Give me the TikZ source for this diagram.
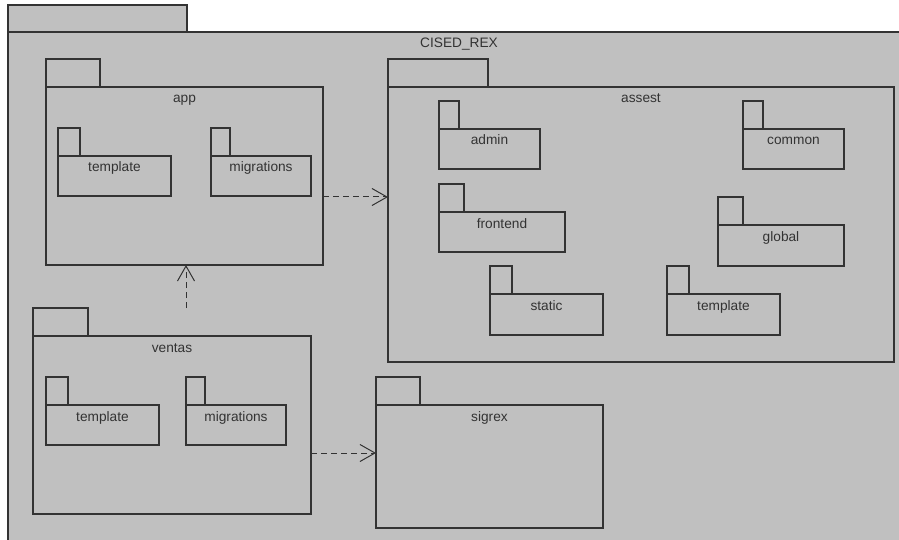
\documentclass[tikz,border=0pt]{standalone}
\usepackage{fontspec}
\setmainfont{Liberation Sans}
\usetikzlibrary{arrows.meta}
\definecolor{pkgfill}{HTML}{C0C0C0}
\definecolor{pkgline}{HTML}{333333}
\tikzset{
  pkgshape/.style={draw=pkgline, fill=pkgfill, line width=1.1pt, inner sep=0pt, outer sep=0pt, rectangle},
  pkglabel/.style={anchor=base, inner sep=0pt, text=pkgline, font=\fontsize{13.7}{16}\selectfont},
  dep/.style={draw=pkgline, line width=1pt, dash pattern=on 6pt off 4pt, -{Straight Barb[length=15pt,width=17pt]}}
}
% #1 name, #2 x1, #3 y1 (body top), #4 x2, #5 y2, #6 tab width, #7 label
\newcommand\umlpkg[7]{%
  \node[pkgshape, anchor=south west, minimum width=#6pt, minimum height=28pt] (#1tab) at (#2,#3) {};
  \node[pkgshape, anchor=north west, minimum width={(#4-#2)*1pt}, minimum height={(#5-#3)*1pt}] (#1) at (#2,#3) {};
  \node[pkglabel] (#1label) at ({(#2+#4)/2},{#3+16}) {#7};
}
\begin{document}
\begin{tikzpicture}[x=1pt,y=-1pt]
\useasboundingbox (0,0) rectangle (899,540);
\fill[white] (0,0) rectangle (899,540);
% outer package
\node[pkgshape, anchor=north west, minimum width=179pt, minimum height=27pt] (outertab) at (8,5) {};
\fill[pkgfill] (8,32) rectangle (899,540);
\coordinate (otl) at (8,32);
\coordinate (otr) at (899,32);
\coordinate (obl) at (8,540);
\draw[pkgline, line width=1.1pt] (obl) -- (otl) -- (otr);
\node[pkglabel] (outerlabel) at (459,48) {CISED\_REX};
% app
\umlpkg{app}{46}{87}{323}{265}{54}{app}
\umlpkg{apptemplate}{58}{156}{171}{196}{22}{template}
\umlpkg{appmigrations}{211}{156}{311}{196}{19}{migrations}
% assest
\umlpkg{assest}{388}{87}{894}{362}{100}{assest}
\umlpkg{admin}{439}{129}{540}{169}{20}{admin}
\umlpkg{common}{743}{129}{844}{169}{20}{common}
\umlpkg{frontend}{439}{212}{565}{252}{25}{frontend}
\umlpkg{global}{718}{225}{844}{266}{25}{global}
\umlpkg{static}{490}{294}{603}{335}{22}{static}
\umlpkg{astemplate}{667}{294}{780}{335}{22}{template}
% ventas
\umlpkg{ventas}{33}{336}{311}{514}{55}{ventas}
\umlpkg{vtemplate}{46}{405}{159}{445}{22}{template}
\umlpkg{vmigrations}{186}{405}{286}{445}{19}{migrations}
% sigrex
\umlpkg{sigrex}{376}{405}{603}{528}{44}{sigrex}
% dependencies
\coordinate (vstart) at (186,308);
\draw[dep] (app.east |- 0,197) -- (assest.west |- 0,197);
\draw[dep] (vstart) -- (vstart |- app.south);
\draw[dep] (ventas.east |- 0,453) -- (sigrex.west |- 0,453);
\end{tikzpicture}
\end{document}
